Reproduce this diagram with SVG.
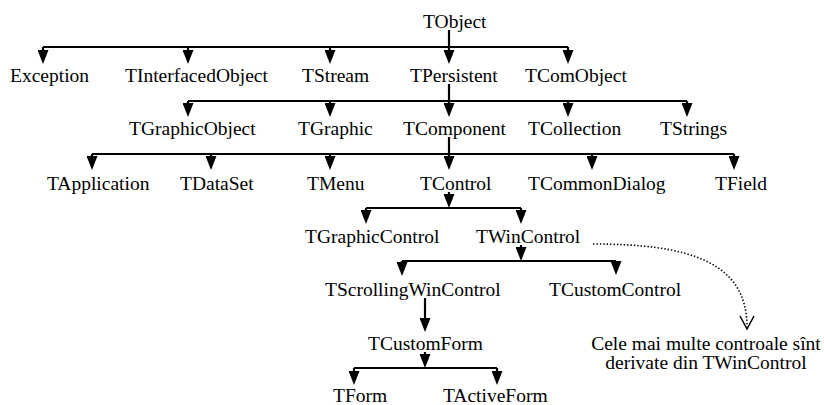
<svg xmlns="http://www.w3.org/2000/svg" width="824" height="405" viewBox="0 0 824 405">
  <defs>
    <marker id="head" viewBox="0 0 14 11" markerWidth="14" markerHeight="11" refX="6" refY="5.5" orient="auto" markerUnits="userSpaceOnUse">
      <path d="M0,0 L14,5.5 L0,11 z" fill="#000"/>
    </marker>
  </defs>
  <style>
    text { font-family: "Liberation Serif", "Times New Roman", serif; font-size: 19.5px; fill: #000; }
    .bar { stroke: #000; stroke-width: 2.2; fill: none; }
    .arr { stroke: #000; stroke-width: 2.2; fill: none; marker-end: url(#head); }
    .dot { stroke: #000; stroke-width: 1.6; fill: none; stroke-dasharray: 1.4 2; }
    .vee { stroke: #000; stroke-width: 1.5; fill: none; }
  </style>
  <rect width="824" height="405" fill="#fff"/>

  <g id="connectors">
    <!-- TObject -->
    <line class="bar" x1="43" y1="47" x2="568" y2="47"/>
    <line class="arr" x1="449" y1="30" x2="449" y2="56"/>
    <line class="arr" x1="43" y1="47" x2="43" y2="56"/>
    <line class="arr" x1="188" y1="47" x2="188" y2="56"/>
    <line class="arr" x1="330" y1="47" x2="330" y2="56"/>
    <line class="arr" x1="568" y1="47" x2="568" y2="56"/>
    <!-- TPersistent -->
    <line class="bar" x1="188" y1="101" x2="687" y2="101"/>
    <line class="arr" x1="449" y1="84" x2="449" y2="109"/>
    <line class="arr" x1="188" y1="101" x2="188" y2="109"/>
    <line class="arr" x1="330" y1="101" x2="330" y2="109"/>
    <line class="arr" x1="568" y1="101" x2="568" y2="109"/>
    <line class="arr" x1="687" y1="101" x2="687" y2="109"/>
    <!-- TComponent -->
    <line class="bar" x1="92" y1="154" x2="734" y2="154"/>
    <line class="arr" x1="449" y1="137" x2="449" y2="162"/>
    <line class="arr" x1="92" y1="154" x2="92" y2="162"/>
    <line class="arr" x1="211" y1="154" x2="211" y2="162"/>
    <line class="arr" x1="330" y1="154" x2="330" y2="162"/>
    <line class="arr" x1="592" y1="154" x2="592" y2="162"/>
    <line class="arr" x1="734" y1="154" x2="734" y2="162"/>
    <!-- TControl -->
    <line class="arr" x1="449" y1="192" x2="449" y2="200"/>
    <line class="bar" x1="366" y1="208" x2="521" y2="208"/>
    <line class="arr" x1="366" y1="208" x2="366" y2="216"/>
    <line class="arr" x1="521" y1="208" x2="521" y2="216"/>
    <!-- TWinControl -->
    <line class="arr" x1="521" y1="245" x2="521" y2="253"/>
    <line class="bar" x1="402" y1="261" x2="616" y2="261"/>
    <line class="arr" x1="402" y1="261" x2="402" y2="268"/>
    <line class="arr" x1="616" y1="261" x2="616" y2="267"/>
    <!-- TScrollingWinControl to TCustomForm -->
    <line class="arr" x1="425" y1="298" x2="425" y2="324"/>
    <!-- TCustomForm -->
    <line class="arr" x1="425" y1="352" x2="425" y2="360"/>
    <line class="bar" x1="354" y1="368" x2="497" y2="368"/>
    <line class="arr" x1="354" y1="368" x2="354" y2="377"/>
    <line class="arr" x1="497" y1="368" x2="497" y2="377"/>
    <!-- note pointer -->
    <path class="dot" d="M593,244 C690,244 747,262 747,327"/>
    <path class="vee" d="M740,316 L747,329 L754,316"/>
  </g>

  <g id="TObject"><text x="423" y="28">TObject</text></g>
  <g id="Exception"><text x="10" y="82">Exception</text></g>
  <g id="TInterfacedObject"><text x="125" y="82">TInterfacedObject</text></g>
  <g id="TStream"><text x="302" y="82">TStream</text></g>
  <g id="TPersistent"><text x="410" y="82">TPersistent</text></g>
  <g id="TComObject"><text x="525" y="82">TComObject</text></g>

  <g id="TGraphicObject"><text x="129" y="135">TGraphicObject</text></g>
  <g id="TGraphic"><text x="298" y="135">TGraphic</text></g>
  <g id="TComponent"><text x="403" y="135">TComponent</text></g>
  <g id="TCollection"><text x="528" y="135">TCollection</text></g>
  <g id="TStrings"><text x="660" y="135">TStrings</text></g>

  <g id="TApplication"><text x="47" y="190">TApplication</text></g>
  <g id="TDataSet"><text x="180" y="190">TDataSet</text></g>
  <g id="TMenu"><text x="307" y="190">TMenu</text></g>
  <g id="TControl"><text x="420" y="190">TControl</text></g>
  <g id="TCommonDialog"><text x="528" y="190">TCommonDialog</text></g>
  <g id="TField"><text x="715" y="190">TField</text></g>

  <g id="TGraphicControl"><text x="305" y="243">TGraphicControl</text></g>
  <g id="TWinControl"><text x="476" y="243">TWinControl</text></g>

  <g id="TScrollingWinControl"><text x="325" y="296">TScrollingWinControl</text></g>
  <g id="TCustomControl"><text x="549" y="296">TCustomControl</text></g>

  <g id="TCustomForm"><text x="368" y="350">TCustomForm</text></g>

  <g id="TForm"><text x="333" y="402">TForm</text></g>
  <g id="TActiveForm"><text x="443" y="402">TActiveForm</text></g>

  <g id="note">
    <text x="706" y="350" text-anchor="middle">Cele mai multe controale sînt</text>
    <text x="706" y="369" text-anchor="middle">derivate din TWinControl</text>
  </g>
</svg>
